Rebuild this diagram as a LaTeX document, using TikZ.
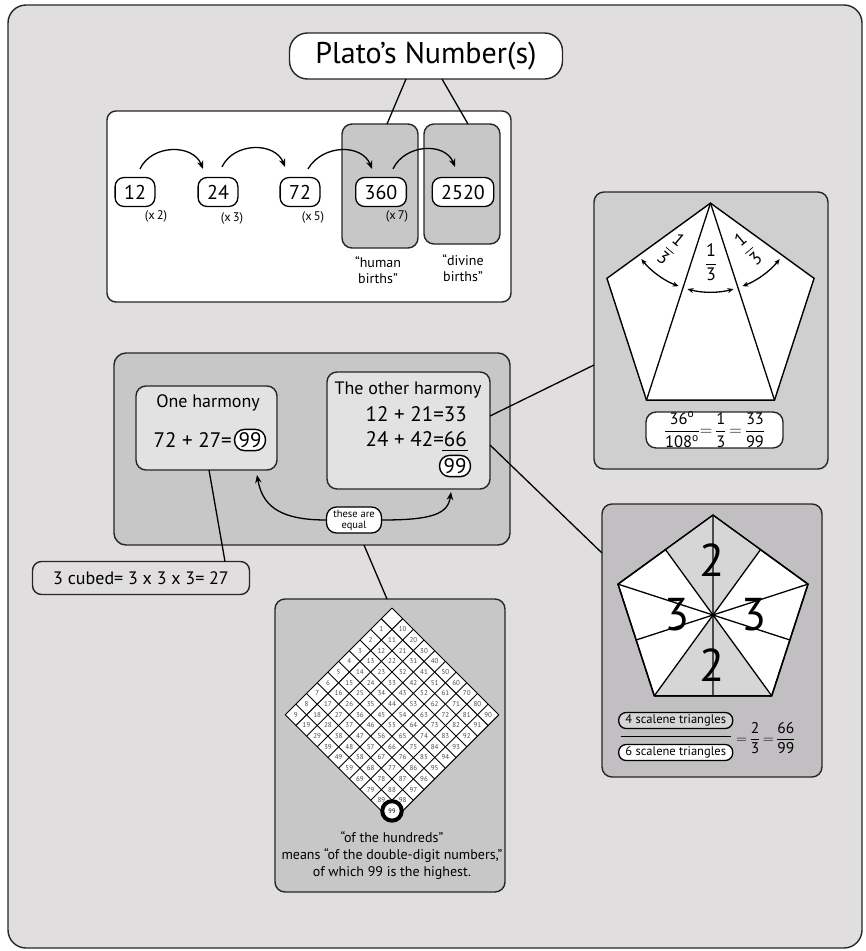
\documentclass[tikz,border=0pt]{standalone}
\usepackage{fontspec}
\setmainfont{PT Sans}
\usepackage{amsmath}
\usetikzlibrary{arrows.meta, shapes.geometric, calc}

\definecolor{paper}{RGB}{224,222,223}
\definecolor{panelgray}{RGB}{199,199,199}
\definecolor{panellight}{RGB}{208,207,208}
\definecolor{paneldark}{RGB}{193,191,193}
\definecolor{innergray}{RGB}{226,226,226}
\definecolor{wedgegray}{RGB}{214,214,214}

\newcommand{\fsz}[2]{\fontsize{#1}{#2}\selectfont}
\newcommand{\qfrac}[2]{\dfrac{\text{#1}}{\text{#2}}}

\begin{document}
\begin{tikzpicture}[
    x=1pt, y=1pt,
    box/.style={draw=black!85, line width=1.4pt, rounded corners=10pt, inner sep=0pt, outer sep=0pt},
    panel/.style={box, fill=panelgray},
    titlebox/.style={box, fill=white, rounded corners=18pt, minimum width=273pt, minimum height=46pt, font=\fsz{30}{32}},
    numbox/.style={draw, line width=1.3pt, rounded corners=9pt, fill=white, inner xsep=9pt, inner ysep=0pt, minimum height=29pt, font=\fsz{20}{24}},
    factor/.style={font=\fsz{12.5}{14}},
    quote/.style={align=center, font=\fsz{14}{16}},
    heading/.style={font=\fsz{18}{20}},
    sum/.style={font=\fsz{21}{24}, inner sep=0pt},
    ringnum/.style={draw, line width=1.4pt, rounded corners=10pt, fill=white, inner xsep=4pt, inner ysep=3pt, font=\fsz{21}{24}},
    eqpill/.style={draw, fill=white, line width=1.3pt, rounded corners=10pt, align=center, font=\fsz{10.5}{11}, minimum width=55pt, minimum height=26pt, inner sep=1pt},
    scalene/.style={draw, line width=1.3pt, rounded corners=7.5pt, font=\fsz{12.5}{13}, inner xsep=2pt, inner ysep=0pt, minimum height=16pt, minimum width=114pt},
    pent/.style={regular polygon, regular polygon sides=5, draw, fill=white, line width=1.4pt, inner sep=0pt, outer sep=0pt},
    bigdigit/.style={font=\fsz{46}{46}, inner sep=0pt},
    cellnum/.style={font=\fsz{7}{7}, text=black!70, inner sep=0pt},
    hop/.style={-{Stealth[length=8pt,width=6.5pt]}, line width=1.3pt},
    angarrow/.style={{Stealth[length=6pt,width=5pt]}-{Stealth[length=6pt,width=5pt]}, line width=1.3pt},
    link/.style={line width=1.3pt}
]
    \useasboundingbox (0,0) rectangle (866,-951);
    \node[box, fill=paper, rounded corners=18pt, minimum width=854pt, minimum height=943pt] (frame) at (435,-476.5) {};

    % Number chain with the two birth groups.
    \node[box, fill=white, rounded corners=9pt, minimum width=404pt, minimum height=191pt] (chain) at (309,-206.5) {};
    \node[panel, minimum width=76pt, minimum height=124pt] (human) at (380,-186) {};
    \node[panel, minimum width=76pt, minimum height=120pt] (divine) at (462,-184) {};
    \node[titlebox] (title) at (426,-56) {Plato’s Number(s)};
    \draw[link] ([xshift=-20]title.south) -- ([xshift=7]human.north);
    \draw[link] ([xshift=16]title.south) -- ([xshift=6]divine.north);

    \node[numbox] (n12) at (135,-192) {12};
    \node[numbox] (n24) at (218,-192) {24};
    \node[numbox] (n72) at (300,-192) {72};
    \node[numbox] (n360) at (381,-192) {360};
    \node[numbox] (n2520) at (463,-192) {2520};
    \node[factor] (f2) at (156,-216) {(x\,2)};
    \node[factor] (f3) at (232,-218) {(x\,3)};
    \node[factor] (f5) at (313,-217) {(x\,5)};
    \node[factor] (f7) at (397,-216) {(x\,7)};
    \draw[hop] ([shift={(5,8)}]n12.north) .. controls +(12,25) and +(-10,25) .. ([shift={(-15,8)}]n24.north);
    \draw[hop] ([shift={(4,10)}]n24.north) .. controls +(12,25) and +(-10,25) .. ([shift={(-15,10)}]n72.north);
    \draw[hop] ([shift={(8,8)}]n72.north) .. controls +(15,25) and +(-10,25) .. ([shift={(-9,8)}]n360.north);
    \draw[hop] ([shift={(12,8)}]n360.north) .. controls +(12,25) and +(-10,25) .. ([shift={(-8,10)}]n2520.north);
    \node[quote] (humanT) at (378,-270) {“human\\ births”};
    \node[quote] (divineT) at (463,-268) {“divine\\births”};

    % The two harmonies.
    \node[panel, rounded corners=12pt, minimum width=396pt, minimum height=192pt] (harm) at (312,-449) {};
    \node[box, fill=innergray, minimum width=141pt, minimum height=84pt] (one) at (206.5,-428) {};
    \node[box, fill=innergray, minimum width=163pt, minimum height=117pt] (other) at (408.5,-430.5) {};
    \node[heading] (oneT) at (208,-403) {One harmony};
    \node[sum, anchor=east] (oneS) at (232,-440) {72 + 27=};
    \node[ringnum] (oneR) at (250,-440) {99};
    \node[heading] (otherT) at (408,-390) {The other harmony};
    \node[sum, anchor=east] (otherA) at (467,-414) {12 + 21=33};
    \node[sum, anchor=east] (otherB) at (467,-439) {24 + 42=66};
    \draw[link] ([shift={(-25,-4)}]otherB.south east) -- ++(26,0);
    \node[ringnum] (otherR) at (455,-466) {99};
    \node[eqpill] (eq) at (354,-520) {these are\\equal};
    \draw[hop] (eq.west) .. controls +(-50,0) and +(5,-28) .. ([shift={(-20,-5)}]one.south east);
    \draw[hop] (eq.east) .. controls +(50,0) and +(-3,-22) .. ([shift={(42.5,-3)}]other.south);

    \node[box, fill=paper, rounded corners=9pt, minimum width=217pt, minimum height=33pt, font=\fsz{18}{20}] (cube) at (141,-578) {3 cubed= 3 x 3 x 3= 27};
    \draw[link] ([xshift=2.5]one.south) -- ([xshift=84]cube.north);

    % Pentagon of thirds.
    \node[box, fill=panellight, minimum width=234pt, minimum height=277pt] (thirds) at (711,-330.5) {};
    \node[pent, minimum size=217.8pt] (pentA) at (710.5,-312) {};
    \draw[link] (pentA.corner 1) -- (pentA.corner 3);
    \draw[link] (pentA.corner 1) -- (pentA.corner 4);
    \draw[angarrow] ([shift={(-141:89)}]pentA.corner 1) arc[start angle=-141, end angle=-111, radius=89];
    \draw[angarrow] ([shift={(-105:89)}]pentA.corner 1) arc[start angle=-105, end angle=-75, radius=89];
    \draw[angarrow] ([shift={(-69:89)}]pentA.corner 1) arc[start angle=-69, end angle=-39, radius=89];
    \node[font=\fsz{18}{20}, rotate=-40, inner sep=0pt] (thirdL) at (671,-249) {$\qfrac{1}{3}$};
    \node[font=\fsz{18}{20}, inner sep=0pt] (thirdM) at (711,-262) {$\qfrac{1}{3}$};
    \node[font=\fsz{18}{20}, rotate=40, inner sep=0pt] (thirdR) at (748,-249) {$\qfrac{1}{3}$};
    \node[box, fill=white, minimum width=137pt, minimum height=34pt, font=\fsz{16.5}{18}] (ratioA) at (714.5,-430) {$\qfrac{36\textsuperscript{o}}{108\textsuperscript{o}}{=}\,\qfrac{1}{3}\,{=}\,\qfrac{33}{99}$};

    % Pentagon of scalene triangles.
    \node[box, fill=paneldark, minimum width=220pt, minimum height=273pt] (scal) at (712,-640.5) {};
    \node[pent, minimum size=199.8pt] (pentB) at (713,-615) {};
    \fill[wedgegray] (pentB.center) -- ($(pentB.corner 1)!0.5!(pentB.corner 2)$) -- (pentB.corner 1) -- ($(pentB.corner 1)!0.5!(pentB.corner 5)$) -- cycle;
    \fill[wedgegray] (pentB.center) -- (pentB.corner 3) -- (pentB.corner 4) -- cycle;
    \foreach \k/\m/\o in {1/3/4, 2/4/5, 3/5/1, 4/1/2, 5/2/3}
        \draw[link] (pentB.corner \k) -- ($(pentB.corner \m)!0.5!(pentB.corner \o)$);
    \draw[line width=1.4pt, line join=round] (pentB.corner 1) -- (pentB.corner 2) -- (pentB.corner 3) -- (pentB.corner 4) -- (pentB.corner 5) -- cycle;
    \node[bigdigit] (d2a) at (712,-560) {2};
    \node[bigdigit] (d3a) at (677,-615) {3};
    \node[bigdigit] (d3b) at (754,-615) {3};
    \node[bigdigit] (d2b) at (712,-665) {2};
    \node[scalene, fill=wedgegray] (four) at (675.7,-720.5) {4 scalene triangles};
    \node[scalene, fill=white] (six) at (675.7,-752.5) {6 scalene triangles};
    \path ($(four.south)!0.5!(six.north)$) coordinate (barmid);
    \draw[line width=1.6pt] ([xshift=-55]barmid) -- ([xshift=55]barmid);
    \node[anchor=west, font=\fsz{15.5}{17}, inner sep=0pt] (ratioB) at (736,-738) {${=}\,\qfrac{2}{3}\,{=}\,\qfrac{66}{99}$};

    % Diamond of the double-digit numbers.
    \node[panel, minimum width=230pt, minimum height=293pt] (grid) at (390,-745.5) {};
    \def\gk{10.68}
    \fill[white] (392,-608) -- ({392+10*\gk},{-608-10*\gk}) -- (392,{-608-20*\gk}) -- ({392-10*\gk},{-608-10*\gk}) -- cycle;
    \foreach \i in {0,...,10} {
        \draw[line width=0.9pt] ({392+\i*\gk},{-608-\i*\gk}) -- ({392+(\i-10)*\gk},{-608-(\i+10)*\gk});
        \draw[line width=0.9pt] ({392-\i*\gk},{-608-\i*\gk}) -- ({392+(10-\i)*\gk},{-608-(10+\i)*\gk});
    }
    \foreach \a in {0,...,9} {
        \foreach \b in {0,...,9} {
            \pgfmathtruncatemacro\n{10*\a+\b}
            \ifnum\n>0 \ifnum\n<99
                \node[cellnum] (c\n) at ({392+(\a-\b)*\gk},{-608-(\a+\b+1)*\gk}) {\n};
            \fi\fi
        }
    }
    \node[circle, draw, line width=4pt, fill=white, minimum size=19.5pt, inner sep=0pt, font=\fsz{6.5}{6.5}] (c99) at (392,{-608-19*\gk}) {99};
    \node[align=center, font=\fsz{14}{17}] (hundreds) at (392,-856) {“of the hundreds”\\means “of the double-digit numbers,”\\of which 99 is the highest.};
    \draw[link] ([xshift=52]harm.south) -- ([xshift=-3]grid.north);

    % Links out to the two pentagons.
    \draw[link] ([yshift=14.5]other.east) -- ([yshift=-34.5]thirds.west);
    \draw[link] ([yshift=-14.5]other.east) -- ([yshift=87.5]scal.west);

\end{tikzpicture}
\end{document}
